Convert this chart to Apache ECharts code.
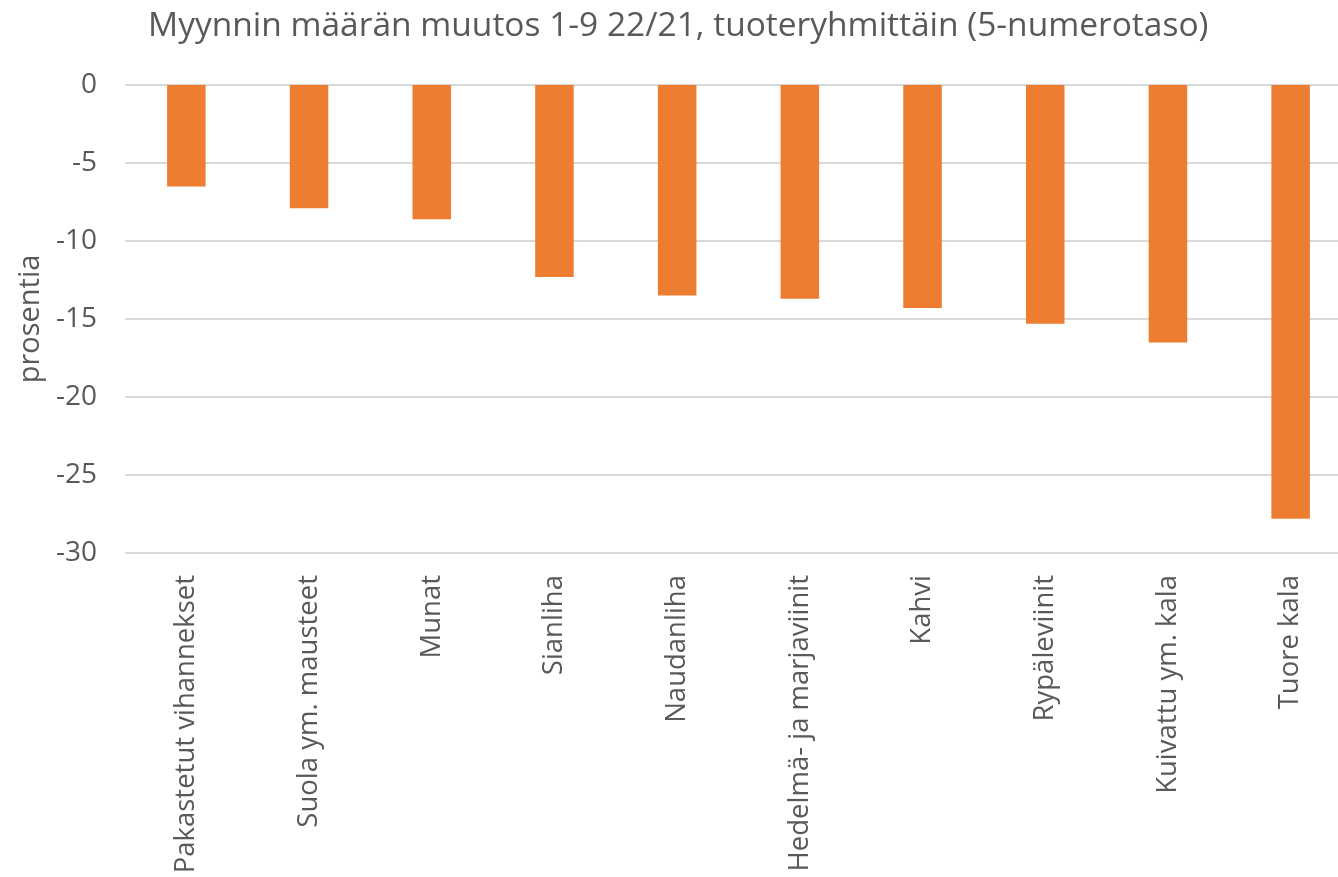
<!DOCTYPE html>
<html>
<head>
<meta charset="utf-8">
<script src="https://cdn.jsdelivr.net/npm/echarts@6/dist/echarts.min.js"></script>
<style>
  html, body { margin: 0; padding: 0; background: #fff; }
  #chart { width: 1338px; height: 877px; }
</style>
</head>
<body>
<div id="chart"></div>
<script>
const categories = [
  'Pakastetut vihannekset', 'Suola ym. mausteet', 'Munat', 'Sianliha', 'Naudanliha',
  'Hedelmä- ja marjaviinit', 'Kahvi', 'Rypäleviinit', 'Kuivattu ym. kala', 'Tuore kala'
]
const changes = [-6.5, -7.9, -8.6, -12.3, -13.5, -13.7, -14.3, -15.3, -16.5, -27.8]
const yTicks = [0, -5, -10, -15, -20, -25, -30]

const font = '"Open Sans", "Noto Sans", sans-serif'
const textColor = '#595959'

const chart = echarts.init(document.getElementById('chart'))
chart.setOption({
  animation: false,
  title: {
    text: 'Myynnin määrän muutos 1-9 22/21, tuoteryhmittäin (5-numerotaso)',
    left: 143,
    top: 4,
    textStyle: { fontFamily: font, fontSize: 33.5, fontWeight: 'normal', color: textColor }
  },
  // the plot runs past the right edge of the picture, as in the source
  grid: { left: 125, top: 85, width: 1227, height: 468, containLabel: false, outerBoundsMode: 'none' },
  xAxis: {
    type: 'category',
    data: categories,
    axisLine: { show: false, onZero: false },
    axisTick: { show: false },
    axisLabel: { rotate: 90, margin: 22, fontFamily: font, fontSize: 27.5, color: textColor, interval: 0 }
  },
  yAxis: {
    type: 'value',
    min: -30,
    max: 0,
    interval: 5,
    name: 'prosentia',
    nameLocation: 'middle',
    nameGap: 80,
    nameTextStyle: { fontFamily: font, fontSize: 29, color: textColor },
    axisLine: { show: false },
    axisTick: { show: false },
    axisLabel: {
      margin: 28, fontFamily: font, fontSize: 28, color: textColor,
      formatter: v => yTicks.includes(v) ? String(v) : ''
    },
    splitLine: { lineStyle: { color: '#d9d9d9', width: 2 } }
  },
  series: [{
    type: 'bar',
    data: changes,
    barWidth: '31.4%',
    itemStyle: { color: '#ed7d31' }
  }]
})
</script>
</body>
</html>
